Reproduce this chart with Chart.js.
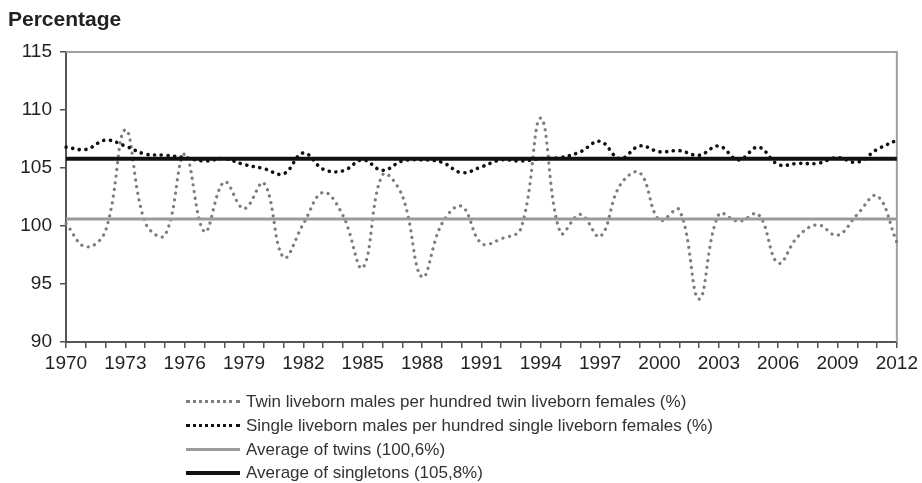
<!DOCTYPE html>
<html>
<head>
<meta charset="utf-8">
<script src="https://cdn.jsdelivr.net/npm/chart.js@4/dist/chart.umd.min.js"></script>
<style>
  body { margin: 0; background: #fff; font-family: "Liberation Sans", Arial, sans-serif; }
  #wrap { position: relative; width: 922px; height: 483px; overflow: hidden; }
  #chart { position: absolute; left: 0; top: 0; }
  #title { position: absolute; left: 8px; top: 7px; font-size: 21px; font-weight: bold; color: #222; }
  .leg { position: absolute; left: 186px; height: 20px; line-height: 20px; font-size: 17px; color: #333; white-space: nowrap; }
  .leg span.sym { display: inline-block; width: 54px; vertical-align: middle; margin-right: 6px; }
  .leg span.txt { vertical-align: middle; }
</style>
</head>
<body>
<div id="wrap">
  <canvas id="chart" width="922" height="483"></canvas>
  <div id="title">Percentage</div>
  <div id="legend"></div>
</div>
<script>
// years on the x axis
const years = ["1970","1971","1972","1973","1974","1975","1976","1977","1978","1979",
  "1980","1981","1982","1983","1984","1985","1986","1987","1988","1989",
  "1990","1991","1992","1993","1994","1995","1996","1997","1998","1999",
  "2000","2001","2002","2003","2004","2005","2006","2007","2008","2009",
  "2010","2011","2012"];

// twin liveborn males per 100 twin liveborn females
const twinRatio = [100.2, 98.2, 99.6, 108.3, 100.3, 99.2, 106.2, 99.5, 103.8, 101.5,
  103.7, 97.3, 100.2, 102.9, 100.9, 96.4, 104.4, 102.6, 95.6, 100.2,
  101.7, 98.5, 98.9, 99.8, 109.3, 99.4, 101.0, 99.1, 103.5, 104.6,
  100.5, 101.4, 93.7, 101.0, 100.4, 101.0, 96.8, 99.1, 100.1, 99.2,
  101.0, 102.6, 98.6];

// single liveborn males per 100 single liveborn females
const singleRatio = [106.8, 106.6, 107.4, 106.9, 106.2, 106.1, 105.9, 105.6, 105.8, 105.3,
  104.95, 104.5, 106.3, 104.9, 104.75, 105.7, 104.8, 105.6, 105.7, 105.5,
  104.6, 105.1, 105.7, 105.6, 105.8, 105.9, 106.4, 107.3, 105.8, 106.9,
  106.4, 106.5, 106.1, 106.9, 105.7, 106.8, 105.3, 105.4, 105.4, 105.9,
  105.5, 106.6, 107.4];

const avgTwin = 100.6;
const avgSingle = 105.8;

const yTicks = [90, 95, 100, 105, 110, 115];

const legendLabels = [
  "Twin liveborn males per hundred twin liveborn females (%)",
  "Single liveborn males per hundred single liveborn females (%)",
  "Average of twins (100,6%)",
  "Average of singletons (105,8%)"
];

const TWIN_COL = "#7d7d7d";
const SINGLE_COL = "#111111";
const AVG_TWIN_COL = "#9a9a9a";

// gray frame on top and right of plot
const framePlugin = {
  id: "frame",
  beforeDatasetsDraw(chart) {
    let a = chart.chartArea;
    let ctx = chart.ctx;
    ctx.save();
    ctx.strokeStyle = "#a0a0a0";
    ctx.lineWidth = 2;
    ctx.beginPath();
    ctx.moveTo(a.left, a.top);
    ctx.lineTo(a.right, a.top);
    ctx.lineTo(a.right, a.bottom);
    ctx.stroke();
    ctx.restore();
  }
};

new Chart(document.getElementById("chart"), {
  type: "line",
  data: {
    labels: years,
    datasets: [
      {
        label: legendLabels[3],
        data: [{x: years[0], y: avgSingle}, {x: years[years.length-1], y: avgSingle}],
        borderColor: SINGLE_COL, borderWidth: 4, pointRadius: 0, tension: 0
      },
      {
        label: legendLabels[2],
        data: [{x: years[0], y: avgTwin}, {x: years[years.length-1], y: avgTwin}],
        borderColor: AVG_TWIN_COL, borderWidth: 3, pointRadius: 0, tension: 0
      },
      {
        label: legendLabels[1],
        data: singleRatio,
        borderColor: SINGLE_COL, borderWidth: 3.6, borderDash: [0.1, 6.6],
        borderCapStyle: "round", pointRadius: 0, tension: 0.4
      },
      {
        label: legendLabels[0],
        data: twinRatio,
        borderColor: TWIN_COL, borderWidth: 3.2, borderDash: [0.1, 6.6],
        borderCapStyle: "round", pointRadius: 0, tension: 0.4
      }
    ]
  },
  options: {
    responsive: false,
    animation: false,
    layout: { padding: { left: 0, top: 52, right: 21, bottom: 111 } },
    plugins: { legend: { display: false }, tooltip: { enabled: false } },
    scales: {
      x: {
        type: "category",
        offset: false,
        afterFit: s => { s.height = 30; },
        border: { color: "#555", width: 2 },
        grid: { drawOnChartArea: false, drawTicks: true, tickLength: 6, color: "#555", lineWidth: 1.5 },
        ticks: {
          autoSkip: false, maxRotation: 0, padding: 4,
          color: "#222", font: { family: "Liberation Sans", size: 19 },
          callback: function(v, i) { return i % 3 === 0 ? years[i] : ""; }
        }
      },
      y: {
        min: 90, max: 115,
        afterFit: s => { s.width = 66; },
        afterBuildTicks: s => { s.ticks = yTicks.map(v => ({value: v})); },
        border: { color: "#555", width: 2 },
        grid: { drawOnChartArea: false, drawTicks: true, tickLength: 6, color: "#555", lineWidth: 1.5 },
        ticks: { padding: 8, color: "#222", font: { family: "Liberation Sans", size: 19 } }
      }
    }
  },
  plugins: [framePlugin]
});

// legend below the chart
const legSyms = [
  "border-top: 3px dotted " + TWIN_COL,
  "border-top: 3px dotted " + SINGLE_COL,
  "border-top: 3px solid " + AVG_TWIN_COL,
  "border-top: 4px solid " + SINGLE_COL
];
const legTops = [391, 415, 439, 462];
let legBox = document.getElementById("legend");
legendLabels.forEach((t, i) => {
  let d = document.createElement("div");
  d.className = "leg";
  d.style.top = legTops[i] + "px";
  d.innerHTML = `<span class="sym" style="${legSyms[i]}"></span><span class="txt">${t}</span>`;
  legBox.appendChild(d);
});
</script>
</body>
</html>
